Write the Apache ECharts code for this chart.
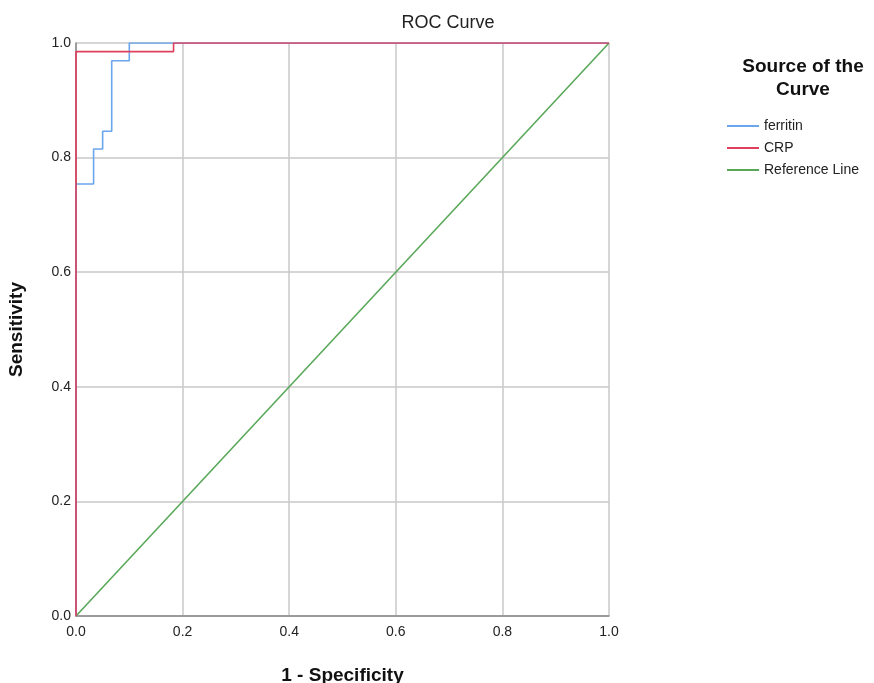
<!DOCTYPE html>
<html>
<head>
<meta charset="utf-8">
<script src="https://cdn.jsdelivr.net/npm/echarts@6/dist/echarts.min.js"></script>
<style>
    html, body { margin: 0; padding: 0; background: #fff; }
    #chart { width: 874px; height: 683px; }
</style>
</head>
<body>
<div id="chart"></div>
<script>
// ROC points: [1 - specificity, sensitivity]
const ferritinPoints = [
    [0, 0], [0, 0.754], [0.033, 0.754], [0.033, 0.815], [0.05, 0.815],
    [0.05, 0.846], [0.067, 0.846], [0.067, 0.969], [0.1, 0.969], [0.1, 1], [1, 1]
];
const crpPoints = [[0, 0], [0, 0.985], [0.183, 0.985], [0.183, 1], [1, 1]];
const referencePoints = [[0, 0], [1, 1]];
const seriesNames = ["ferritin", "CRP", "Reference Line"];
const seriesColors = ["#6aa6ec", "#e0405e", "#59a859"];

const chart = echarts.init(document.getElementById("chart"));
const fontFamily = "'Liberation Sans', Arial, sans-serif";

function lineSeries(name, data, color, z) {
    return {
        name,
        type: "line",
        data,
        symbol: "none",
        z,
        lineStyle: { color, width: 1.6 },
        itemStyle: { color },
        animation: false
    };
}

chart.setOption({
    animation: false,
    title: [
        {
            text: "ROC Curve",
            left: 443, top: 9, textAlign: "center",
            textStyle: { fontFamily, fontSize: 18, fontWeight: "normal", color: "#222" }
        },
        {
            text: "Source of the\nCurve",
            left: 798, top: 50, textAlign: "center",
            textStyle: { fontFamily, fontSize: 19, fontWeight: "bold", color: "#111", lineHeight: 23 }
        }
    ],
    legend: {
        data: seriesNames,
        orient: "vertical",
        left: 722, top: 114,
        itemWidth: 32, itemHeight: 2, itemGap: 8,
        icon: "rect",
        textStyle: { fontFamily, fontSize: 14, color: "#222" }
    },
    grid: { left: 76, right: 265, top: 43, bottom: 67, containLabel: false, outerBoundsMode: "none" },
    xAxis: {
        type: "value", min: 0, max: 1, interval: 0.2,
        name: "1 - Specificity", nameLocation: "middle", nameGap: 50,
        nameTextStyle: { fontFamily, fontSize: 19, fontWeight: "bold", color: "#111" },
        axisLine: { show: true, lineStyle: { color: "#888", width: 1.5 } },
        axisTick: { show: false },
        axisLabel: { fontFamily, fontSize: 14, color: "#222", margin: 9, formatter: v => v.toFixed(1) },
        splitLine: { show: true, lineStyle: { color: "#c8c8c8", width: 1.5 } }
    },
    yAxis: {
        type: "value", min: 0, max: 1, interval: 0.2,
        name: "Sensitivity", nameLocation: "middle", nameGap: 50,
        nameTextStyle: { fontFamily, fontSize: 19, fontWeight: "bold", color: "#111" },
        axisLine: { show: true, lineStyle: { color: "#888", width: 1.5 } },
        axisTick: { show: false },
        axisLabel: { fontFamily, fontSize: 14, color: "#222", margin: 5, formatter: v => v.toFixed(1) },
        splitLine: { show: true, lineStyle: { color: "#c8c8c8", width: 1.5 } }
    },
    series: [
        lineSeries(seriesNames[2], referencePoints, seriesColors[2], 2),
        lineSeries(seriesNames[0], ferritinPoints, seriesColors[0], 3),
        lineSeries(seriesNames[1], crpPoints, seriesColors[1], 4)
    ]
});
</script>
</body>
</html>
